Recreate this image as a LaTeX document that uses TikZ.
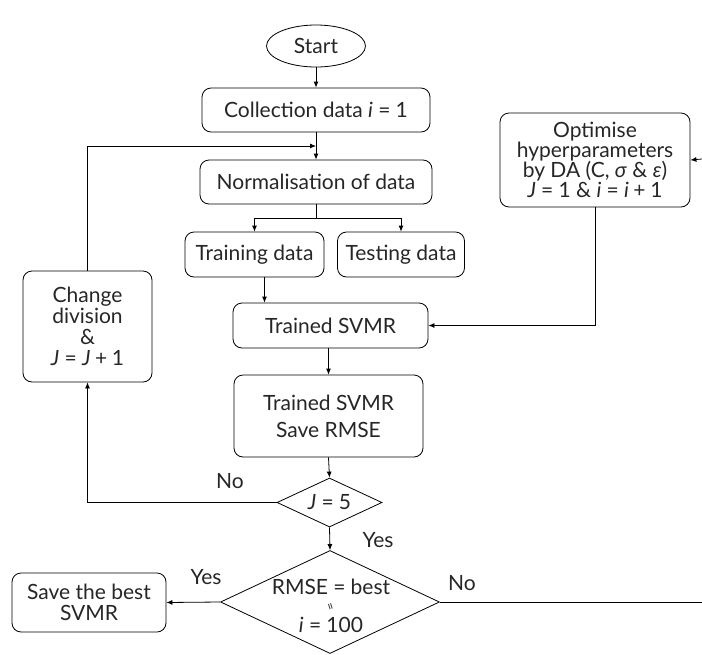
\documentclass[tikz,border=0pt]{standalone}
\usepackage{fontspec}
\setmainfont{Lato}
\usetikzlibrary{shapes.geometric,arrows.meta,calc}
\newcommand{\mi}[1]{\textit{#1}}
\newcommand{\eqs}{\hspace{0.25em}=\hspace{0.25em}}
\newcommand{\pls}{\hspace{0.22em}+\hspace{0.22em}}
\begin{document}
\begin{tikzpicture}[x=1pt,y=-1pt,
  every node/.style={font=\fontsize{21}{21}\selectfont, text=black!85},
  box/.style={draw, rounded corners=9pt, line width=0.8pt, align=center, inner sep=1pt},
  dia/.style={draw, diamond, line width=0.8pt, inner sep=0pt, align=center},
  conn/.style={line width=0.8pt},
  arr/.style={conn, -{Latex[length=6pt,width=5pt]}},
  lbl/.style={inner sep=0pt}]
\useasboundingbox (0,0) rectangle (702,654);
\node[draw, ellipse, line width=0.8pt, minimum width=99pt, minimum height=42pt, inner sep=0pt] (start) at (316,46) {Start};
\node[box, minimum width=228pt, minimum height=44pt] (coll) at (316,110) {Collection data \mi{i}\eqs1};
\node[box, minimum width=232pt, minimum height=44pt] (norm) at (316,182) {Normalisation of data};
\node[box, minimum width=139pt, minimum height=45pt] (train) at (254.5,254.5) {Training data};
\node[box, minimum width=127pt, minimum height=45pt] (test) at (401,254.5) {Testing data};
\node[box, minimum width=195pt, minimum height=45pt] (tsvmr) at (330.5,325.5) {Trained SVMR};
\node[box, minimum width=189pt, minimum height=82pt, font=\fontsize{21}{27}\selectfont] (save) at (328.5,416) {Trained SVMR\\Save RMSE};
\node[dia, minimum width=105pt, minimum height=49pt] (j5) at (329.5,502.5) {};
\node at (329.5,502.5) {\mi{J}\eqs5};
\node[dia, minimum width=219pt, minimum height=103pt] (best) at (330,602) {};
\node at (331,587) {RMSE\eqs best};
\node at (331,625) {\mi{i}\eqs100};
\node[inner sep=0pt, font=\fontsize{13}{13}\selectfont] at (329,607) {\rotatebox{-72}{=}};
\node[box, minimum width=154pt, minimum height=59pt, font=\fontsize{21}{21}\selectfont] (bestbox) at (89,602.5) {Save the best\\SVMR};
\node[box, minimum width=129pt, minimum height=111pt, font=\fontsize{21}{21}\selectfont] (change) at (87.5,326.5) {Change\\division\\\&\\\mi{J}\eqs\mi{J}\pls1};
\node[box, minimum width=190pt, minimum height=94pt, font=\fontsize{21}{20}\selectfont] (opt) at (595,160) {Optimise\\hyperparameters\\by DA (C, \mi{σ} \& \mi{ε})\\\mi{J}\eqs1 \& \mi{i}\eqs\mi{i}\pls1};
\node[lbl] at (230,481) {No};
\node[lbl] at (378,540) {Yes};
\node[lbl] at (206,577) {Yes};
\node[lbl] at (462,583) {No};
\coordinate (loopin) at (316,146);
\coordinate (split) at (316,218);
\coordinate (rightend) at (702,602);
\coordinate (optin) at (702,159);
\draw[arr] (start) -- (coll);
\draw[arr] (coll) -- (norm);
\draw[arr] (change.north) |- (loopin);
\draw[conn] (norm.south) -- (split);
\draw[arr] (split) -| (train.north);
\draw[arr] (split) -| (test.north);
\draw[arr] ([xshift=10pt]train.south) -- ([xshift=10pt]train.south |- tsvmr.north);
\draw[arr] ([xshift=-2pt]tsvmr.south) -- ([xshift=-2pt]tsvmr.south |- save.north);
\draw[arr] (save.south) -- (j5.north);
\draw[arr] (j5.south) -- (best.north);
\draw[arr] (j5.west) -| (change.south);
\draw[arr] (best.west) -- (bestbox.east);
\draw[conn] (best.east) -- (rightend);
\draw[arr] (opt.south) |- (tsvmr.east);
\draw[arr] (optin) -- (opt.east);
\end{tikzpicture}
\end{document}
